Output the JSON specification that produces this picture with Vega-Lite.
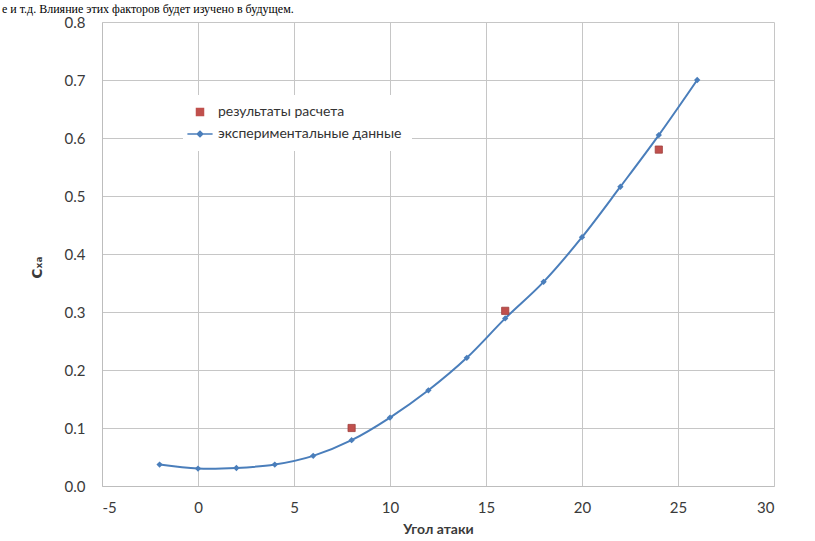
{
  "$schema": "https://vega.github.io/schema/vega-lite/v6.json",
  "width": 672,
  "height": 464,
  "autosize": {"type": "none"},
  "padding": {"left": 102, "top": 22, "right": 41, "bottom": 55},
  "background": "white",
  "title": {
    "text": "е и т.д. Влияние этих факторов будет  изучено в будущем.",
    "anchor": "start",
    "frame": "group",
    "font": "Liberation Serif",
    "fontSize": 12,
    "fontWeight": "normal",
    "color": "#000000",
    "baseline": "alphabetic",
    "offset": 0,
    "dx": -100,
    "dy": 10.4
  },
  "config": {
    "view": {"stroke": null},
    "axis": {
      "labelFont": "Lato",
      "labelFontSize": 15,
      "labelColor": "#3a3a3a",
      "titleFont": "Lato",
      "titleColor": "#3a3a3a",
      "gridColor": "#C6C6C6",
      "gridWidth": 1,
      "domainColor": "#BDBDBD",
      "ticks": false,
      "tickSize": 0
    }
  },
  "datasets": {
    "exp": [
      {"angle": -2, "cxa": 0.037},
      {"angle": 0, "cxa": 0.030},
      {"angle": 2, "cxa": 0.031},
      {"angle": 4, "cxa": 0.037},
      {"angle": 6, "cxa": 0.052},
      {"angle": 8, "cxa": 0.079},
      {"angle": 10, "cxa": 0.118},
      {"angle": 12, "cxa": 0.165},
      {"angle": 14, "cxa": 0.221},
      {"angle": 16, "cxa": 0.289},
      {"angle": 18, "cxa": 0.352},
      {"angle": 20, "cxa": 0.429},
      {"angle": 22, "cxa": 0.516},
      {"angle": 24, "cxa": 0.605},
      {"angle": 26, "cxa": 0.700}
    ],
    "calc": [
      {"angle": 8, "cxa": 0.100},
      {"angle": 16, "cxa": 0.302},
      {"angle": 24, "cxa": 0.580}
    ]
  },
  "layer": [
    {
      "data": {"name": "exp"},
      "mark": {
        "type": "line",
        "interpolate": "cardinal",
        "strokeWidth": 2,
        "point": {"shape": "diamond", "size": 40, "filled": true, "opacity": 1}
      },
      "encoding": {
        "x": {
          "field": "angle",
          "type": "quantitative",
          "scale": {"domain": [-5, 30], "nice": false, "zero": false},
          "axis": {
            "values": [-5, 0, 5, 10, 15, 20, 25, 30],
            "labelExpr": "toString(datum.value)",
            "title": "Угол атаки",
            "titleFontWeight": "bold",
            "titleFontSize": 14,
            "labelPadding": 14,
            "titlePadding": 7,
            "grid": true
          }
        },
        "y": {
          "field": "cxa",
          "type": "quantitative",
          "scale": {"domain": [0, 0.8], "nice": false},
          "axis": {
            "values": [0, 0.1, 0.2, 0.3, 0.4, 0.5, 0.6, 0.7, 0.8],
            "format": ".1f",
            "title": "Cₓₐ",
            "titleFont": "DejaVu Sans",
            "titleFontWeight": "bold",
            "titleFontSize": 14,
            "titleX": -65,
            "titleY": 245,
            "titleAlign": "center",
            "titleBaseline": "middle",
            "labelPadding": 17,
            "grid": true
          }
        },
        "color": {
          "datum": "экспериментальные данные",
          "type": "nominal",
          "scale": {
            "domain": ["результаты расчета", "экспериментальные данные"],
            "range": ["#C0504D", "#4A7EBB"]
          },
          "legend": {
            "orient": "none",
            "legendX": 81,
            "legendY": 73,
            "title": null,
            "padding": 10,
            "fillColor": "white",
            "symbolSize": 49,
            "labelFont": "Lato",
            "labelFontSize": 14,
            "labelColor": "#333333",
            "labelOffset": 11,
            "labelLimit": 0,
            "rowPadding": 8,
            "encode": {
              "symbols": {
                "update": {
                  "shape": {"signal": "datum.value === 'результаты расчета' ? 'square' : 'M-3.6,0L3.6,0M0,-0.8L0.8,0L0,0.8L-0.8,0Z'"},
                  "fill": {"signal": "datum.value === 'результаты расчета' ? '#C0504D' : '#4A7EBB'"},
                  "stroke": {"signal": "datum.value === 'результаты расчета' ? '#C0504D' : '#4A7EBB'"},
                  "strokeWidth": {"value": 1.5},
                  "fillOpacity": {"value": 1},
                  "opacity": {"value": 1}
                }
              }
            }
          }
        }
      }
    },
    {
      "data": {"name": "calc"},
      "mark": {"type": "square", "size": 52, "filled": true, "opacity": 1, "stroke": "#A0403D", "strokeWidth": 0.8},
      "encoding": {
        "x": {"field": "angle", "type": "quantitative"},
        "y": {"field": "cxa", "type": "quantitative"},
        "color": {"datum": "результаты расчета", "type": "nominal"}
      }
    }
  ]
}
